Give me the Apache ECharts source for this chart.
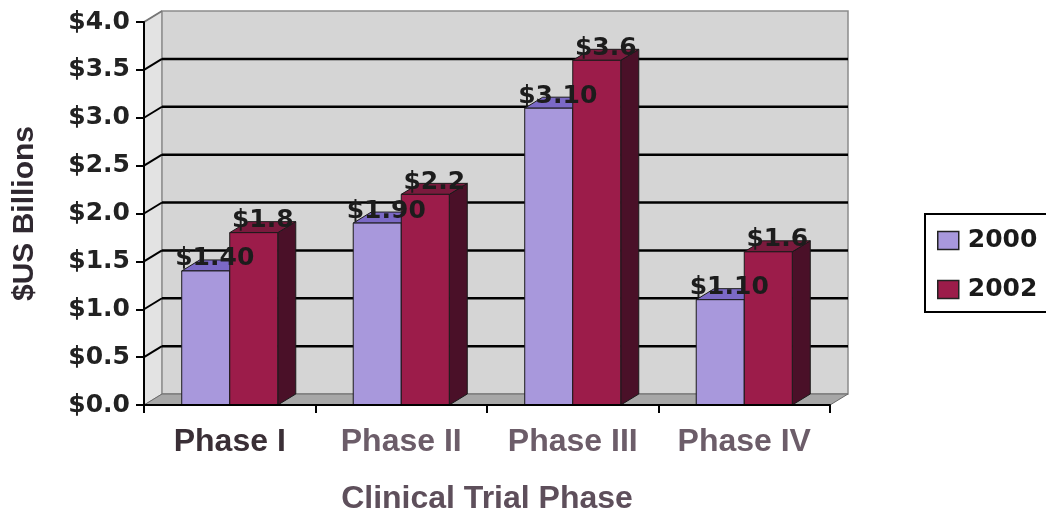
<!DOCTYPE html>
<html>
<head>
<meta charset="utf-8">
<title>Clinical Trial Phase</title>
<script src="https://cdn.jsdelivr.net/npm/echarts@6/dist/echarts.min.js"></script>
<style>
  html, body { margin: 0; padding: 0; background: #fff; }
  #chart { width: 1046px; height: 513px; }
</style>
</head>
<body>
<div id="chart"></div>
<script>
// data
const phases = ['Phase I', 'Phase II', 'Phase III', 'Phase IV'];
const years = ['2000', '2002'];
const spend2000 = [1.4, 1.9, 3.1, 1.1];
const spend2002 = [1.8, 2.2, 3.6, 1.6];
const yTicks = [0, 0.5, 1, 1.5, 2, 2.5, 3, 3.5, 4];

// 3d look: depth offset of the walls and bars
const DX = 18;
const DY = -11;

const numFont = '"DejaVu Sans", sans-serif';
const wordFont = '"Liberation Sans", Arial, sans-serif';

const faces = [
  { front: '#a898dc', top: '#7b69c6', side: '#5b4aa0' },
  { front: '#9c1c4a', top: '#7a1a3d', side: '#4a1028' }
];

let chart = echarts.init(document.getElementById('chart'));

// back wall, left wall, floor and grid lines
function renderWalls(params, api) {
  let cs = params.coordSys;
  let x0 = cs.x, x1 = cs.x + cs.width;
  let yb = api.coord([0, 0])[1];
  let yt = api.coord([0, yTicks[yTicks.length - 1]])[1];
  let kids = [];
  kids.push({
    type: 'polygon',
    shape: { points: [[x0, yb], [x0, yt], [x0 + DX, yt + DY], [x0 + DX, yb + DY]] },
    style: { fill: '#e3e3e3', stroke: '#9a9a9a', lineWidth: 1 }
  });
  kids.push({
    type: 'rect',
    shape: { x: x0 + DX, y: yt + DY, width: x1 - x0, height: yb - yt },
    style: { fill: '#d5d5d5', stroke: '#8c8c8c', lineWidth: 1.5 }
  });
  kids.push({
    type: 'polygon',
    shape: { points: [[x0, yb], [x0 + DX, yb + DY], [x1 + DX, yb + DY], [x1, yb]] },
    style: { fill: '#a7a7a7', stroke: '#6a6a6a', lineWidth: 1 }
  });
  yTicks.forEach(function (t) {
    if (t === 0) return;
    let y = api.coord([0, t])[1];
    let last = t === yTicks[yTicks.length - 1];
    kids.push({
      type: 'line',
      shape: { x1: x0, y1: y, x2: x0 + DX, y2: y + DY },
      style: { stroke: last ? '#777' : '#000', lineWidth: 2 }
    });
    if (!last) {
      kids.push({
        type: 'line',
        shape: { x1: x0 + DX, y1: y + DY, x2: x1 + DX, y2: y + DY },
        style: { stroke: '#000', lineWidth: 2.5 }
      });
    }
  });
  return { type: 'group', children: kids };
}

function makeBarRenderer(s, decimals) {
  return function (params, api) {
    let i = api.value(0);
    let v = api.value(1);
    let top = api.coord([i, v]);
    let base = api.coord([i, 0]);
    let bw = api.size([1, 0])[0] * 0.28;
    let left = top[0] - bw + s * bw;
    let right = left + bw;
    let f = faces[s];
    let edge = { stroke: '#1a1a1a', lineWidth: 1 };
    return {
      type: 'group',
      children: [
        {
          type: 'polygon',
          shape: { points: [[right, top[1]], [right + DX, top[1] + DY], [right + DX, base[1] + DY], [right, base[1]]] },
          style: Object.assign({ fill: f.side }, edge)
        },
        {
          type: 'polygon',
          shape: { points: [[left, top[1]], [left + DX, top[1] + DY], [right + DX, top[1] + DY], [right, top[1]]] },
          style: Object.assign({ fill: f.top }, edge)
        },
        {
          type: 'rect',
          shape: { x: left, y: top[1], width: bw, height: base[1] - top[1] },
          style: Object.assign({ fill: f.front }, edge)
        },
        {
          type: 'text',
          z2: 100,
          style: {
            x: (left + right) / 2 + DX / 2,
            y: top[1] + DY - 1,
            text: '$' + v.toFixed(decimals),
            align: 'center',
            verticalAlign: 'middle',
            font: 'bold 25px ' + numFont,
            fill: '#1c1c1c'
          }
        }
      ]
    };
  };
}

function pairs(arr) {
  return arr.map(function (v, i) { return [i, v]; });
}

chart.setOption({
  animation: false,
  backgroundColor: '#fff',
  grid: {
    left: 144,
    right: 216,
    top: 22,
    bottom: 108,
    outerBoundsMode: 'none'
  },
  legend: {
    data: years,
    orient: 'vertical',
    left: 925,
    top: 214,
    padding: [14, 12, 10, 12],
    itemGap: 24,
    itemWidth: 21,
    itemHeight: 18,
    icon: 'rect',
    borderColor: '#000',
    borderWidth: 2,
    itemStyle: { borderColor: '#222', borderWidth: 1.5 },
    textStyle: {
      fontFamily: numFont,
      fontWeight: 'bold',
      fontSize: 25,
      color: '#1a1a1a',
      padding: [0, 0, 0, 4]
    }
  },
  xAxis: {
    type: 'category',
    data: phases.map(function (p, i) {
      return { value: p, textStyle: { color: i === 0 ? '#3a2f36' : '#6c5d69' } };
    }),
    z: 5,
    axisLine: { lineStyle: { color: '#000', width: 2 } },
    axisTick: { show: true, interval: 0, length: 8, lineStyle: { color: '#000', width: 2 } },
    axisLabel: {
      interval: 0,
      margin: 21,
      fontFamily: wordFont,
      fontWeight: 'bold',
      fontSize: 32
    },
    name: 'Clinical Trial Phase',
    nameLocation: 'middle',
    nameGap: 78,
    nameTextStyle: {
      fontFamily: wordFont,
      fontWeight: 'bold',
      fontSize: 32,
      color: '#5e4f5b'
    },
    splitLine: { show: false }
  },
  yAxis: {
    type: 'value',
    min: 0,
    max: 4,
    interval: 0.5,
    z: 5,
    axisLine: { show: true, lineStyle: { color: '#000', width: 2 } },
    axisTick: { show: true, length: 8, lineStyle: { color: '#000', width: 2 } },
    axisLabel: {
      margin: 14,
      fontFamily: numFont,
      fontWeight: 'bold',
      fontSize: 25,
      color: '#222',
      formatter: function (v) { return '$' + v.toFixed(1); }
    },
    splitLine: { show: false },
    name: '$US Billions',
    nameLocation: 'middle',
    nameGap: 104,
    nameTextStyle: {
      fontFamily: wordFont,
      fontWeight: 'bold',
      fontSize: 30,
      color: '#2f2830'
    }
  },
  series: [
    {
      name: 'walls',
      type: 'custom',
      silent: true,
      z: 1,
      data: [[0, 0]],
      renderItem: renderWalls
    },
    {
      name: years[0],
      type: 'custom',
      z: 3,
      itemStyle: { color: faces[0].front },
      encode: { x: 0, y: 1 },
      data: pairs(spend2000),
      renderItem: makeBarRenderer(0, 2)
    },
    {
      name: years[1],
      type: 'custom',
      z: 3,
      itemStyle: { color: faces[1].front },
      encode: { x: 0, y: 1 },
      data: pairs(spend2002),
      renderItem: makeBarRenderer(1, 1)
    }
  ]
});
</script>
</body>
</html>
